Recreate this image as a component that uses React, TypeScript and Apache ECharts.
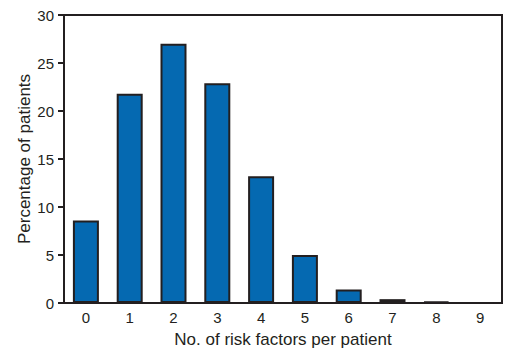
import React, { useEffect, useRef } from "react";
import * as echarts from "echarts";

const categories = ["0", "1", "2", "3", "4", "5", "6", "7", "8", "9"];
const percentages = [8.6, 21.8, 27.0, 22.9, 13.2, 5.0, 1.4, 0.4, 0.15, 0];
const yTicks = { min: 0, max: 30, interval: 5 };

const INK = "#231f20";
const BLUE = "#0569b1";
const FONT = "Liberation Sans, Arial, sans-serif";

export default function App() {
  const ref = useRef<HTMLDivElement>(null);
  useEffect(() => {
    const chart = echarts.init(ref.current!, null, { renderer: "svg" });
    chart.setOption({
      animation: false,
      grid: {
        left: 64,
        top: 15,
        width: 438,
        height: 288,
        show: true,
        borderColor: INK,
        borderWidth: 2,
        backgroundColor: "transparent",
      },
      xAxis: {
        type: "category",
        data: categories,
        name: "No. of risk factors per patient",
        nameLocation: "middle",
        nameGap: 28,
        nameMoveOverlap: false,
        nameTextStyle: { fontFamily: FONT, fontSize: 17, color: INK },
        axisLine: { lineStyle: { color: INK, width: 2 } },
        axisTick: { alignWithLabel: true, length: 5, lineStyle: { color: INK, width: 2 } },
        axisLabel: { fontFamily: FONT, fontSize: 15, color: INK, margin: 7 },
      },
      yAxis: {
        type: "value",
        min: yTicks.min,
        max: yTicks.max,
        interval: yTicks.interval,
        name: "Percentage of patients",
        nameLocation: "middle",
        nameGap: 31,
        nameMoveOverlap: false,
        nameTextStyle: { fontFamily: FONT, fontSize: 17, color: INK },
        axisLine: { show: true, lineStyle: { color: INK, width: 2 } },
        axisTick: { show: true, length: 6, lineStyle: { color: INK, width: 2 } },
        axisLabel: { fontFamily: FONT, fontSize: 15, color: INK, margin: 10 },
        splitLine: { show: false },
      },
      series: [
        {
          type: "bar",
          data: percentages,
          barWidth: 26,
          itemStyle: { color: BLUE, borderColor: INK, borderWidth: 2 },
        },
      ],
    });
    return () => chart.dispose();
  }, []);
  return <div ref={ref} style={{ width: 514, height: 356, position: "absolute", left: 0, top: 0 }} />;
}
